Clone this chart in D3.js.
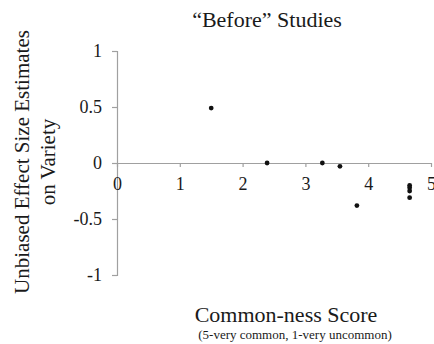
<!DOCTYPE html>
<html>
<head>
<meta charset="utf-8">
<script src="https://cdn.jsdelivr.net/npm/d3@7"></script>
<style>
  body { margin: 0; background: #fff; }
  svg text { font-family: "Liberation Serif", "DejaVu Serif", serif; fill: #1a1a1a; }
</style>
</head>
<body>
<div id="chart"></div>
<script>
// data
var commonness = [1.5, 2.39, 3.27, 3.55, 3.82, 4.66, 4.66, 4.66, 4.66];
var effectSize = [0.49, 0.0, 0.0, -0.03, -0.38, -0.2, -0.22, -0.25, -0.31];
var xTicks = [0, 1, 2, 3, 4, 5];
var yTicks = [1, 0.5, 0, -0.5, -1];

var w = 434, h = 344;
var serif = "'Liberation Serif', 'DejaVu Serif', serif";

var svg = d3.select("#chart").append("svg")
    .attr("width", w)
    .attr("height", h);

var x = d3.scaleLinear().domain([0, 5]).range([117, 431]);
var y = d3.scaleLinear().domain([-1, 1]).range([275, 51]);

var axisColor = "#a0a0a0";
var plain = function (d) { return String(d); }; // keeps "-" instead of unicode minus

// y axis (left side, with ticks)
var yAxis = svg.append("g")
    .attr("transform", "translate(" + x(0) + ",0)")
    .call(d3.axisLeft(y).tickValues(yTicks).tickSize(5).tickPadding(10).tickFormat(plain));
yAxis.attr("font-family", null).attr("font-size", null);
yAxis.select(".domain").attr("stroke", axisColor).attr("stroke-width", 1.2);
yAxis.selectAll(".tick line").attr("stroke", axisColor).attr("stroke-width", 1.2);
yAxis.selectAll(".tick text")
    .style("font-family", serif)
    .style("font-size", "18px")
    .attr("fill", "#1a1a1a");

// x axis crosses at y = 0
var xAxis = svg.append("g")
    .attr("transform", "translate(0," + y(0) + ")")
    .call(d3.axisBottom(x).tickValues(xTicks).tickSize(4).tickPadding(10).tickSizeOuter(0).tickFormat(plain));
xAxis.attr("font-family", null).attr("font-size", null);
xAxis.select(".domain").attr("stroke", axisColor).attr("stroke-width", 1.2);
xAxis.selectAll(".tick line").attr("stroke", axisColor).attr("stroke-width", 1.2);
xAxis.selectAll(".tick text")
    .style("font-family", serif)
    .style("font-size", "18px")
    .attr("fill", "#1a1a1a");

// points
svg.append("g").selectAll("circle")
    .data(commonness)
    .enter()
    .append("circle")
    .attr("cx", function (d) { return x(d); })
    .attr("cy", function (d, i) { return y(effectSize[i]); })
    .attr("r", 2.4)
    .attr("fill", "#111");

// title
svg.append("text")
    .attr("x", 267).attr("y", 27)
    .attr("text-anchor", "middle")
    .style("font-size", "22px")
    .text("\u201CBefore\u201D Studies");

// y axis title
var yt = svg.append("text")
    .attr("transform", "translate(0,162) rotate(-90)")
    .attr("text-anchor", "middle")
    .style("font-size", "21px");
yt.append("tspan").attr("x", 0).attr("y", 29).text("Unbiased Effect Size Estimates");
yt.append("tspan").attr("x", 0).attr("y", 55).text("on Variety");

// x axis title
svg.append("text")
    .attr("x", 286).attr("y", 322)
    .attr("text-anchor", "middle")
    .style("font-size", "22px")
    .text("Common-ness Score");
svg.append("text")
    .attr("x", 295).attr("y", 339)
    .attr("text-anchor", "middle")
    .style("font-size", "13px")
    .text("(5-very common, 1-very uncommon)");
</script>
</body>
</html>
